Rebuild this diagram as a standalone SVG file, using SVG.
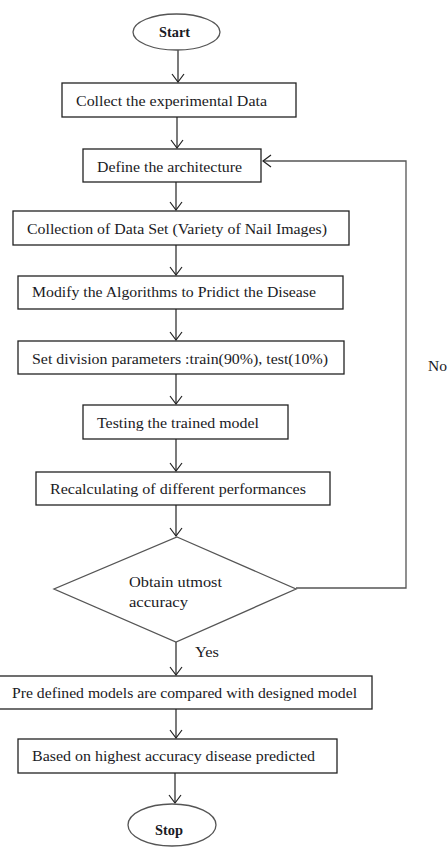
<svg xmlns="http://www.w3.org/2000/svg" width="448" height="848" viewBox="0 0 448 848">
<defs>
<marker id="arr" markerUnits="userSpaceOnUse" markerWidth="12" markerHeight="14" refX="9" refY="7" orient="auto">
<path d="M1,1 L9,7 L1,13" fill="none" stroke="#222" stroke-width="1.2"/>
</marker>
<style>
.box{fill:#fff;stroke:#222;stroke-width:1.3}
.shape{fill:#fff;stroke:#555;stroke-width:1.3}
.t{font-family:"Liberation Serif","Times New Roman",serif;font-size:14px;fill:#1a1a24}
.c{fill:none;stroke:#222;stroke-width:1.2}
.fb{fill:none;stroke:#555;stroke-width:1.3}
</style>
</defs>
<rect width="448" height="848" fill="#fff"/>
<g id="connectors">
<line class="c" x1="178" y1="50" x2="178" y2="82" marker-end="url(#arr)"/>
<line class="c" x1="177" y1="117" x2="177" y2="148" marker-end="url(#arr)"/>
<line class="c" x1="176" y1="182" x2="176" y2="210" marker-end="url(#arr)"/>
<line class="c" x1="176" y1="245" x2="176" y2="275" marker-end="url(#arr)"/>
<line class="c" x1="176" y1="309" x2="176" y2="340" marker-end="url(#arr)"/>
<line class="c" x1="176" y1="374" x2="176" y2="404" marker-end="url(#arr)"/>
<line class="c" x1="176" y1="439" x2="176" y2="471" marker-end="url(#arr)"/>
<line class="c" x1="176" y1="505" x2="176" y2="536" marker-end="url(#arr)"/>
<line class="c" x1="176" y1="642" x2="176" y2="675" marker-end="url(#arr)"/>
<line class="c" x1="176" y1="709" x2="176" y2="738" marker-end="url(#arr)"/>
<line class="c" x1="175" y1="773" x2="175" y2="803" marker-end="url(#arr)"/>
<polyline class="fb" points="296,588 406,588 406,161 263,161" marker-end="url(#arr)"/>
<text class="t" x="195" y="657" textLength="24" lengthAdjust="spacingAndGlyphs">Yes</text>
<text class="t" x="428" y="371" textLength="19" lengthAdjust="spacingAndGlyphs">No</text>
</g>
<g id="start">
<ellipse class="shape" cx="176.5" cy="32" rx="43.5" ry="18"/>
<text class="t" x="159" y="37" textLength="31" lengthAdjust="spacingAndGlyphs" font-weight="bold">Start</text>
</g>
<g id="collect">
<rect class="box" x="62" y="83" width="234" height="34"/>
<text class="t" x="76" y="106" textLength="191" lengthAdjust="spacingAndGlyphs">Collect the experimental Data</text>
</g>
<g id="define">
<rect class="box" x="83" y="149" width="178" height="33"/>
<text class="t" x="97" y="172" textLength="145" lengthAdjust="spacingAndGlyphs">Define the architecture</text>
</g>
<g id="dataset">
<rect class="box" x="13" y="211" width="336" height="34"/>
<text class="t" x="27" y="234" textLength="300" lengthAdjust="spacingAndGlyphs">Collection of Data Set (Variety of Nail Images)</text>
</g>
<g id="modify">
<rect class="box" x="18" y="276" width="325" height="33"/>
<text class="t" x="32" y="297" textLength="284" lengthAdjust="spacingAndGlyphs">Modify the Algorithms to Pridict the Disease</text>
</g>
<g id="division">
<rect class="box" x="18" y="341" width="326" height="33"/>
<text class="t" x="32" y="364" textLength="296" lengthAdjust="spacingAndGlyphs">Set division parameters :train(90%), test(10%)</text>
</g>
<g id="testing">
<rect class="box" x="83" y="405" width="205" height="34"/>
<text class="t" x="97" y="428" textLength="162" lengthAdjust="spacingAndGlyphs">Testing the trained model</text>
</g>
<g id="recalc">
<rect class="box" x="36" y="472" width="294" height="33"/>
<text class="t" x="50" y="494" textLength="256" lengthAdjust="spacingAndGlyphs">Recalculating of different performances</text>
</g>
<g id="decision">
<polygon class="shape" points="177,537 296,589 176,642 54,589"/>
<text class="t" x="129" y="587" textLength="93" lengthAdjust="spacingAndGlyphs">Obtain utmost</text>
<text class="t" x="129" y="607" textLength="59" lengthAdjust="spacingAndGlyphs">accuracy</text>
</g>
<g id="compare">
<rect class="box" x="-1" y="676" width="373" height="33"/>
<text class="t" x="12" y="698" textLength="345" lengthAdjust="spacingAndGlyphs">Pre defined models are compared with designed model</text>
</g>
<g id="predict">
<rect class="box" x="18" y="739" width="319" height="34"/>
<text class="t" x="32" y="761" textLength="283" lengthAdjust="spacingAndGlyphs">Based on highest accuracy disease predicted</text>
</g>
<g id="stop">
<ellipse class="shape" cx="172" cy="825" rx="44" ry="21"/>
<text class="t" x="155" y="835" textLength="28" lengthAdjust="spacingAndGlyphs" font-weight="bold">Stop</text>
</g>
</svg>
